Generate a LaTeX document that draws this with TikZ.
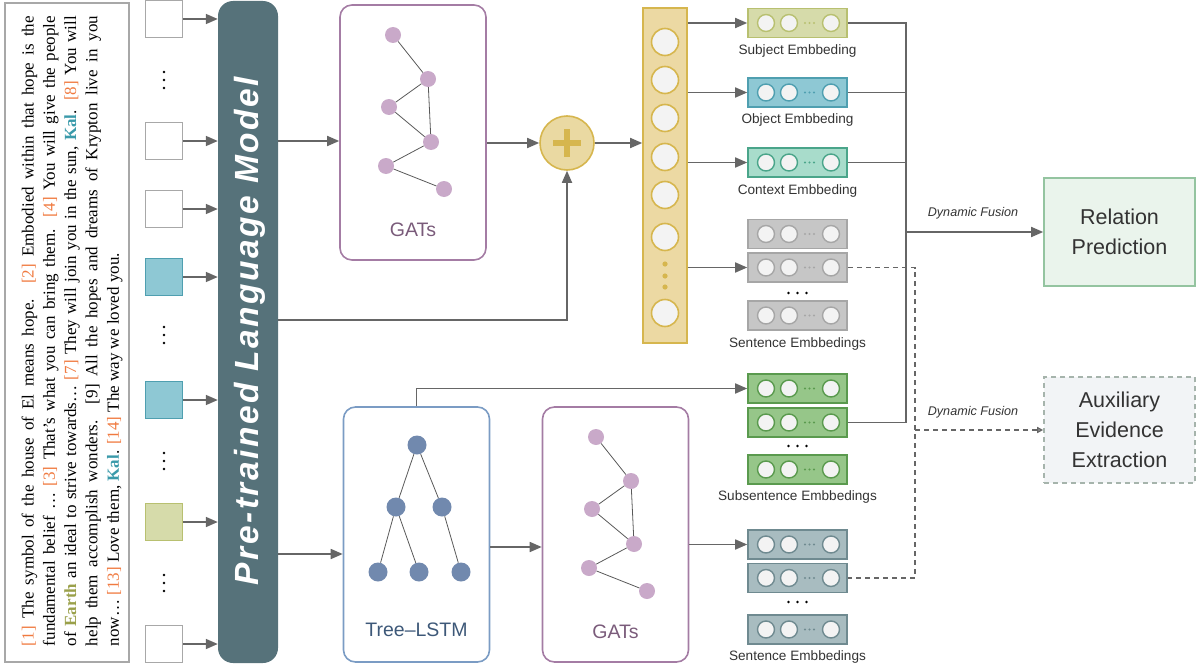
\documentclass[tikz,border=0pt]{standalone}
\usepackage{fontspec}
\setmainfont{Liberation Serif}
\newfontfamily\lsans{Liberation Sans}
\newfontfamily\plmfont[LetterSpace=7.5]{Liberation Sans}
\usetikzlibrary{arrows.meta}
\definecolor{ag}{HTML}{666666}
\definecolor{boxg}{HTML}{A8A8A8}
\definecolor{sqb}{HTML}{A8A8A8}
\definecolor{tealf}{HTML}{8EC8D4}
\definecolor{tealb}{HTML}{4F9FB0}
\definecolor{olf}{HTML}{D6DBAA}
\definecolor{olb}{HTML}{B8C070}
\definecolor{plmc}{HTML}{56727A}
\definecolor{gatb}{HTML}{A47CA4}
\definecolor{gnf}{HTML}{C9A9C9}
\definecolor{gatt}{HTML}{7A5B7A}
\definecolor{treeb}{HTML}{7B9CC4}
\definecolor{tnf}{HTML}{7189AE}
\definecolor{treet}{HTML}{3D5878}
\definecolor{plusf}{HTML}{EAD9A2}
\definecolor{plusb}{HTML}{D6B64E}
\definecolor{colf}{HTML}{ECD9A3}
\definecolor{cf}{HTML}{F3F3F3}
\definecolor{ctxf}{HTML}{A8DCCB}
\definecolor{ctxb}{HTML}{4AA58A}
\definecolor{grf}{HTML}{C6C6C6}
\definecolor{grb}{HTML}{A6A6A6}
\definecolor{grnf}{HTML}{96C689}
\definecolor{grnb}{HTML}{5A9A4E}
\definecolor{slf}{HTML}{A8BCC0}
\definecolor{slb}{HTML}{6F8A90}
\definecolor{relf}{HTML}{EAF4EC}
\definecolor{relb}{HTML}{94C4A0}
\definecolor{auxf}{HTML}{F2F4F6}
\definecolor{auxb}{HTML}{A6B4AC}
\definecolor{tc}{HTML}{333333}
\definecolor{orng}{HTML}{F07A40}
\definecolor{earthc}{HTML}{9AA04A}
\definecolor{kalc}{HTML}{3A9AAA}
\newcommand\ob[1]{\textcolor{orng}{#1}}
\newcommand\earthw[1]{\textcolor{earthc}{\textbf{#1}}}
\newcommand\kalw[1]{\textcolor{kalc}{\textbf{#1}}}
\tikzset{
 arr/.style={draw=ag, line width=1.7pt, -{Triangle[length=12pt,width=10pt]}},
 ln/.style={draw=ag, line width=1.7pt},
 dsh/.style={draw=ag, line width=1.5pt, dash pattern=on 5pt off 4pt},
 sq/.style={draw=sqb, line width=1.6pt, minimum size=37pt, inner sep=0, fill=white},
 emb/.style={draw, line width=1.6pt, minimum width=99pt, minimum height=29pt, inner sep=0},
 ec/.style={circle, fill=cf, line width=1.4pt, minimum size=17pt, inner sep=0},
 lab/.style={font=\lsans\fontsize{13.6}{15}\selectfont, text=tc},
 gnode/.style={circle, fill=gnf, minimum size=16pt, inner sep=0},
 tnode/.style={circle, fill=tnf, minimum size=19pt, inner sep=0},
 gedge/.style={draw=black!65, line width=0.8pt},
 modbox/.style={draw, line width=1.6pt, rounded corners=12pt, minimum width=146pt, minimum height=255pt, inner sep=0},
}
\newcommand\embrow[4]{%
 \node[emb, fill=#3, draw=#4] (#1) at (797.5,#2) {};
 \foreach \xx in {766,789,831} \node[ec, draw=#4] at (\xx,#2) {};
 \foreach \xx in {805,809.5,814} \fill[#4] (\xx,#2) circle (1.2pt);
}
\newcommand\vdts[1]{\foreach \dd in {-8,0,8} \fill (164,#1+\dd) circle (1.4pt);}
\newcommand\hdts[1]{\foreach \dd in {-9,0,9} \fill (797.5+\dd,#1) circle (1.3pt);}
\newcommand\gatgraph{%
 \node[gnode] (a) at (53,30) {};
 \node[gnode] (b) at (88,74) {};
 \node[gnode] (c) at (49,102) {};
 \node[gnode] (d) at (91,137) {};
 \node[gnode] (e) at (46,161) {};
 \node[gnode] (f) at (104,184) {};
 \draw[gedge] (a) -- (b) (b) -- (c) (b) -- (d) (c) -- (d) (d) -- (e) (e) -- (f);
}
\begin{document}
\begin{tikzpicture}[x=1pt,y=-1pt]
\useasboundingbox (0,0) rectangle (1199,669);

% left text
\node[draw=boxg, line width=1.5pt, minimum width=124pt, minimum height=659pt, inner sep=0] (tb) at (67,332.5) {};
\node[rotate=90, inner sep=0] (txt) at (72,331) {\parbox{630pt}{\fontsize{17}{21.3}\selectfont
\hbox to 630pt{\ob{[1]} The symbol of the house of El means hope. \ob{[2]} Embodied within that hope is the}
\hbox to 630pt{fundamental belief … \ob{[3]} That’s what you can bring them. \ob{[4]} You will give the people}
\hbox to 630pt{of \earthw{Earth} an ideal to strive towards… \ob{[7]} They will join you in the sun, \kalw{Kal}. \ob{[8]} You will}
\hbox to 630pt{help them accomplish wonders. [9] All the hopes and dreams of Krypton live in you}
\hbox{now… \ob{[13]} Love them, \kalw{Kal}. \ob{[14]} The way we loved you.}}};

% input squares
\node[sq] (s1) at (164,19) {};
\node[sq] (s2) at (164,141) {};
\node[sq] (s3) at (164,209) {};
\node[sq, fill=tealf, draw=tealb] (s4) at (164,277) {};
\node[sq, fill=tealf, draw=tealb] (s5) at (164,400) {};
\node[sq, fill=olf, draw=olb] (s6) at (164,522) {};
\node[sq] (s7) at (164,644) {};
\vdts{80}\vdts{335}\vdts{461}\vdts{583}

% PLM
\node[fill=plmc, rounded corners=15pt, minimum width=60pt, minimum height=662pt, inner sep=0] (plm) at (248,332) {};
\node[rotate=90, text=white, inner sep=0, font=\plmfont\bfseries\itshape\fontsize{33.5}{36}\selectfont] (plmt) at (250,331) {Pre-trained Language Model};
\foreach \s in {s1,s2,s3,s4,s5,s6,s7} \draw[arr] (\s.east) -- (\s.east -| plm.west);

% GATs top
\node[modbox, draw=gatb] (gat1) at (413,132.5) {};
\begin{scope}[shift={(340,5)}, name prefix=ga-]\gatgraph\end{scope}
\node[text=gatt, font=\lsans\fontsize{19.5}{22}\selectfont] (gat1l) at (413,230) {GATs};

% plus
\node[circle, fill=plusf, draw=plusb, line width=1.6pt, minimum size=54pt, inner sep=0] (plus) at (567,143) {};
\draw[plusb, line width=6pt] (553,143) -- (581,143) (567,129) -- (567,157);

% column
\node[fill=colf, draw=plusb, line width=1.6pt, minimum width=44pt, minimum height=335pt, inner sep=0] (col) at (665,175.5) {};
\foreach \yy in {42,80,118,157,195,237,313} \node[circle, fill=cf, draw=plusb, line width=1.6pt, minimum size=27pt, inner sep=0] at (665,\yy) {};
\foreach \yy in {264,276,287} \fill[plusb] (665,\yy) circle (2.6pt);

% Tree-LSTM
\node[modbox, draw=treeb] (tree) at (416.5,534.5) {};
\node[tnode] (t0) at (417,445) {};
\node[tnode] (t1) at (396,507) {};
\node[tnode] (t2) at (442,507) {};
\node[tnode] (t3) at (378,572) {};
\node[tnode] (t4) at (419,572) {};
\node[tnode] (t5) at (461,572) {};
\draw[gedge] (t0) -- (t1) (t0) -- (t2) (t1) -- (t3) (t1) -- (t4) (t2) -- (t5);
\node[text=treet, font=\lsans\fontsize{19.5}{22}\selectfont] (treel) at (416.5,630) {Tree–LSTM};

% GATs bottom
\node[modbox, draw=gatb] (gat2) at (615.5,534.5) {};
\begin{scope}[shift={(543,407)}, name prefix=gb-]\gatgraph\end{scope}
\node[text=gatt, font=\lsans\fontsize{19.5}{22}\selectfont] (gat2l) at (615.5,632) {GATs};

% embeddings
\embrow{subj}{23}{olf}{olb}
\embrow{obj}{92.5}{tealf}{tealb}
\embrow{ctx}{162.5}{ctxf}{ctxb}
\embrow{se1}{234}{grf}{grb}
\embrow{se2}{267.5}{grf}{grb}
\embrow{se3}{315.5}{grf}{grb}
\embrow{sub1}{388.5}{grnf}{grnb}
\embrow{sub2}{422.5}{grnf}{grnb}
\embrow{sub3}{469.5}{grnf}{grnb}
\embrow{bs1}{544.5}{slf}{slb}
\embrow{bs2}{578}{slf}{slb}
\embrow{bs3}{629.5}{slf}{slb}
\hdts{293}\hdts{446}\hdts{602}
\node[lab] at (797.5,51) {Subject Embbeding};
\node[lab] at (797.5,120) {Object Embbeding};
\node[lab] at (797.5,191) {Context Embbeding};
\node[lab] at (797.5,344) {Sentence Embbedings};
\node[lab] at (797.5,497) {Subsentence Embbedings};
\node[lab] at (797.5,657) {Sentence Embbedings};

% right boxes
\node[fill=relf, draw=relb, line width=1.6pt, minimum width=151pt, minimum height=108pt, inner sep=0, align=center, text=tc, font=\lsans\fontsize{21.5}{30}\selectfont] (rel) at (1119.5,232) {Relation\\Prediction};
\node[fill=auxf, draw=auxb, line width=1.6pt, dash pattern=on 5pt off 4pt, minimum width=151pt, minimum height=106pt, inner sep=0, align=center, text=tc, font=\lsans\fontsize{21.5}{30}\selectfont] (aux) at (1119.5,430) {Auxiliary\\Evidence\\Extraction};

% connectors
\draw[arr] (plm.east |- 0,141) -- (gat1.west |- 0,141);
\draw[arr] (gat1.east |- plus) -- (plus.west);
\draw[arr] (plm.east |- 0,320) -| (plus.south);
\draw[arr] (plus.east) -- (plus.east -| col.west);
\draw[arr] (col.east |- subj) -- (subj.west);
\draw[arr] (col.east |- obj) -- (obj.west);
\draw[arr] (col.east |- ctx) -- (ctx.west);
\draw[arr] (col.east |- se2) -- (se2.west);
\draw[arr] (plm.east |- 0,554) -- (tree.west |- 0,554);
\draw[arr] (tree.north) |- (sub1.west);
\draw[arr] (tree.east |- 0,547) -- (gat2.west |- 0,547);
\draw[arr] (gat2.east |- bs1) -- (bs1.west);

\coordinate (ftop) at (906,23);
\coordinate (fbot) at (906,422.5);
\draw[ln] (subj.east) -- (ftop) -- (fbot) -- (sub2.east);
\draw[ln] (obj.east) -- (obj.east -| ftop);
\draw[ln] (ctx.east) -- (ctx.east -| ftop);
\draw[arr] (ftop |- rel.west) -- (rel.west);
\node[text=tc, font=\lsans\itshape\fontsize{12.6}{14}\selectfont] (df1) at (973,213) {Dynamic Fusion};

\coordinate (dtop) at (915,267.5);
\coordinate (dbot) at (915,578);
\draw[dsh] (se2.east) -- (dtop) -- (dbot) -- (bs2.east);
\draw[dsh, -{Triangle[open,length=6pt,width=6pt]}] (dtop |- aux.west) -- (aux.west);
\node[text=tc, font=\lsans\itshape\fontsize{12.6}{14}\selectfont] (df2) at (973,412) {Dynamic Fusion};
\end{tikzpicture}
\end{document}
